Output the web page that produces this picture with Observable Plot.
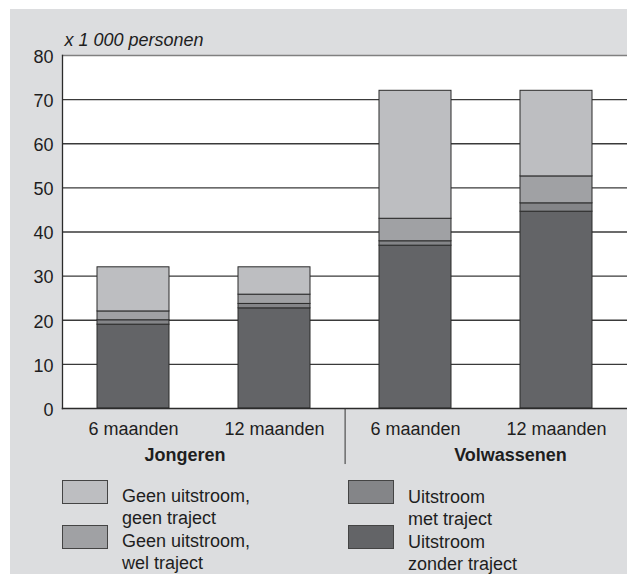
<!DOCTYPE html>
<html><head><meta charset="utf-8">
<script src="https://cdn.jsdelivr.net/npm/d3@7"></script>
<script src="https://cdn.jsdelivr.net/npm/@observablehq/plot@0.6"></script>
<style>
html,body{margin:0;padding:0;background:#fff;width:627px;height:574px;overflow:hidden;}
#panel{position:absolute;left:10px;top:9px;width:617px;height:565px;background:#dcdddf;overflow:hidden;}
#chart{position:absolute;left:0;top:0;}
.leg-box{position:absolute;width:44px;height:22px;border:1px solid #444;box-sizing:content-box;}
.leg-text{position:absolute;font-family:"Liberation Sans",Arial,sans-serif;font-size:18px;line-height:21.5px;color:#1e1e1e;white-space:pre;}
</style></head><body>
<div id="panel"><div id="chart"></div></div>
<script>
// ---- data ----
const groups = ["Jongeren", "Volwassenen"];
const periods = ["6 maanden", "12 maanden"];
const series = [
  "Uitstroom zonder traject",
  "Uitstroom met traject",
  "Geen uitstroom, wel traject",
  "Geen uitstroom, geen traject"
];
// values per bar: Jongeren 6m, Jongeren 12m, Volwassenen 6m, Volwassenen 12m
const zonderTraject = [19.0, 22.7, 36.9, 44.6];
const metTraject    = [1.0, 1.0, 1.0, 1.9];
const welTraject    = [2.0, 2.1, 5.1, 6.1];
const geenTraject   = [10.0, 6.2, 29.0, 19.4];
const colors = ["#636467", "#848588", "#a0a1a4", "#bdbec1"];
const yTicks = [0, 10, 20, 30, 40, 50, 60, 70, 80];
const unitLabel = ["x 1 000 personen"];
const legendLabels = [
  "Uitstroom\nzonder traject",
  "Uitstroom\nmet traject",
  "Geen uitstroom,\nwel traject",
  "Geen uitstroom,\ngeen traject"
];

// ---- tables ----
const values = [zonderTraject, metTraject, welTraject, geenTraject];
const cats = groups.flatMap(g => periods.map(p => ({key: g + " · " + p, group: g, period: p})));
const keys = cats.map(c => c.key);
const rows = [];
cats.forEach((c, i) => series.forEach((s, j) => rows.push({key: c.key, series: s, value: values[j][i]})));

const font = "Liberation Sans, Arial, sans-serif";
const plot = Plot.plot({
  width: 617, height: 565,
  marginLeft: 52, marginRight: 0, marginTop: 46, marginBottom: 166,
  style: {fontFamily: font, fontSize: "18px", color: "#1e1e1e", background: "transparent", overflow: "visible"},
  x: {domain: keys, paddingInner: 0.49, paddingOuter: 0.245, axis: null},
  y: {domain: [0, 80], axis: null},
  color: {domain: series, range: colors},
  marks: [
    Plot.frame({fill: "white", stroke: "none"}),
    Plot.ruleY(yTicks.filter(t => t > 0 && t < 80), {stroke: "#3a3a3a", strokeWidth: 1.3}),
    Plot.frame({anchor: "top", stroke: "#808080", strokeWidth: 1.3}),
    Plot.barY(rows, {x: "key", y: "value", fill: "series", order: series, stroke: "#2b2b2b", strokeWidth: 1}),
    Plot.frame({anchor: "left", stroke: "#2b2b2b", strokeWidth: 1.3}),
    Plot.frame({anchor: "bottom", stroke: "#2b2b2b", strokeWidth: 1.5}),
    Plot.text(yTicks, {y: d => d, text: d => String(d), frameAnchor: "left", textAnchor: "end", dx: -9, dy: 1.5, fill: "#1e1e1e"}),
    Plot.text(cats, {x: "key", y: 0, text: "period", lineAnchor: "bottom", dy: 26, fill: "#1e1e1e"}),
    Plot.text([cats[0]], {x: "key", y: 0, text: "group", lineAnchor: "bottom", dy: 52, dx: 51.4, fontWeight: "bold", fill: "#1e1e1e"}),
    Plot.text([cats[2]], {x: "key", y: 0, text: "group", lineAnchor: "bottom", dy: 52, dx: 95, fontWeight: "bold", fill: "#1e1e1e"}),
    Plot.ruleX([cats[1]], {x: "key", y1: 0, y2: -12.7, dx: 70.6, stroke: "#333", strokeWidth: 1}),
    Plot.text(unitLabel, {text: d => d, frameAnchor: "top-left", textAnchor: "start", lineAnchor: "bottom", dx: 2, dy: -10, fontStyle: "italic", fill: "#1e1e1e"})
  ]
});
document.getElementById("chart").appendChild(plot);

// ---- legend (HTML, from the same arrays) ----
// layout: left column = series[3], series[2]; right column = series[1], series[0]
const panel = document.getElementById("panel");
const legendOrder = [3, 2, 1, 0];
const boxX = [52, 52, 338, 338];
const boxY = [471, 516, 471, 516];
legendOrder.forEach((si, k) => {
  const b = document.createElement("div");
  b.className = "leg-box";
  b.style.left = boxX[k] + "px";
  b.style.top = boxY[k] + "px";
  b.style.background = colors[si];
  panel.appendChild(b);
  const t = document.createElement("div");
  t.className = "leg-text";
  t.style.left = (boxX[k] + 60) + "px";
  t.style.top = (boxY[k] + 6 + (k >= 2 ? 1 : 0)) + "px";
  t.textContent = legendLabels[si];
  panel.appendChild(t);
});
</script>
</body></html>
